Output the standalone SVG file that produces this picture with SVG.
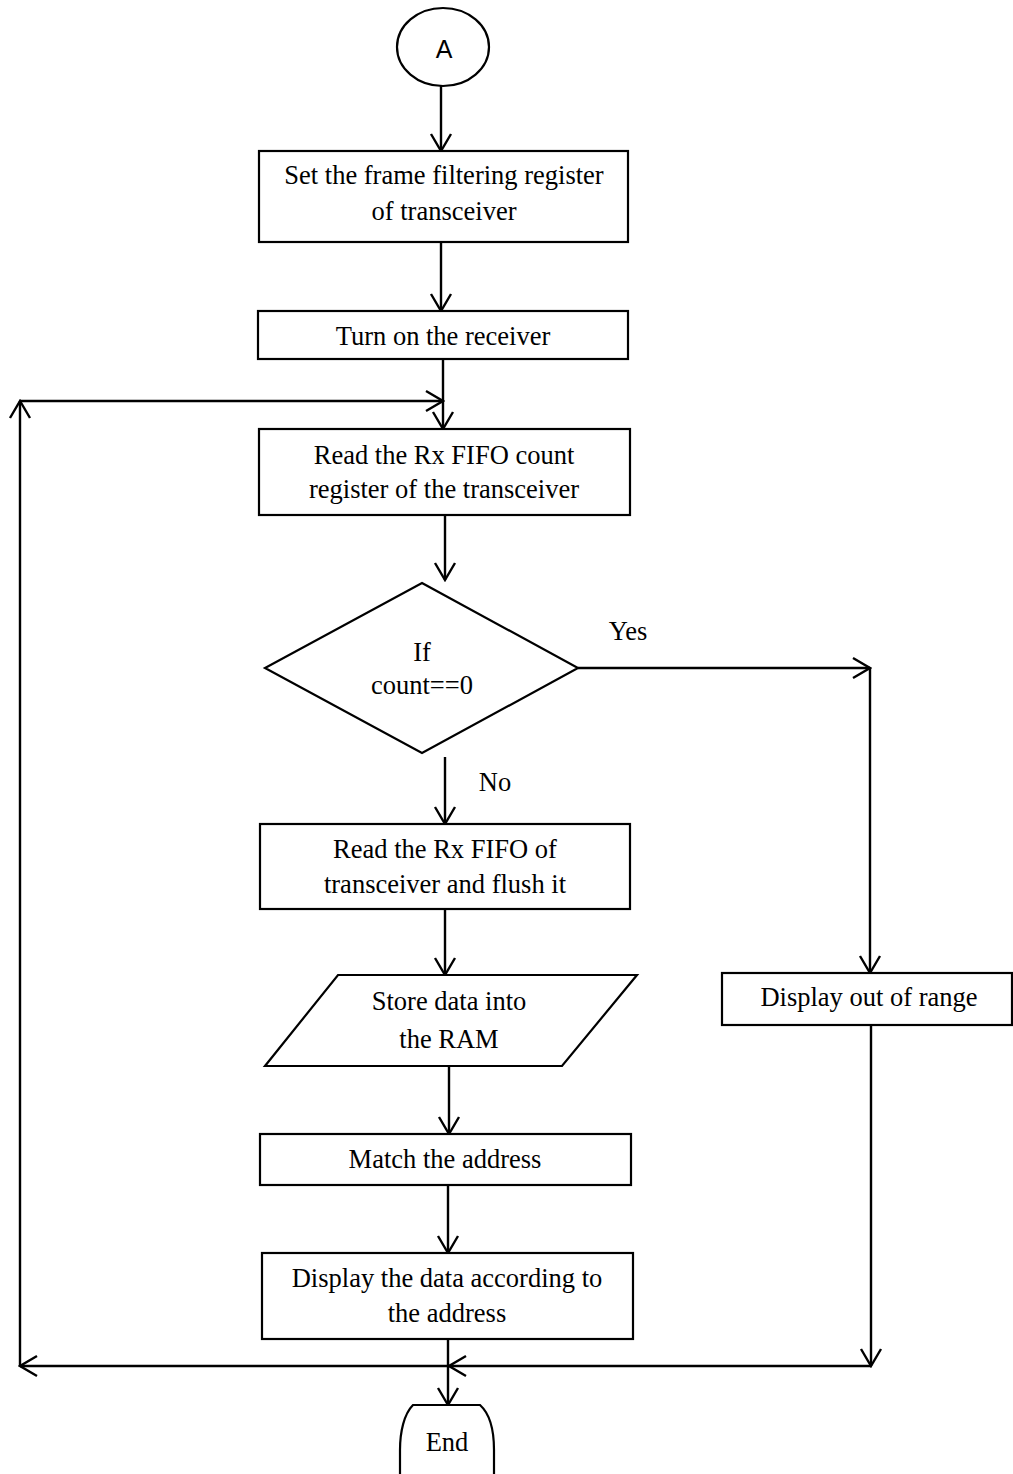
<svg xmlns="http://www.w3.org/2000/svg" width="1013" height="1474" viewBox="0 0 1013 1474">
<style>
.shape{fill:#fff;stroke:#000;stroke-width:2.2}
.t{font-family:"Liberation Serif","Times New Roman",serif;font-size:26.5px;fill:#000;text-anchor:middle}
.s{font-family:"Liberation Sans",Arial,sans-serif;font-size:25px;fill:#000;text-anchor:middle}
.c{fill:none;stroke:#000;stroke-width:2.4}
</style>
<defs>
<marker id="ah" markerUnits="userSpaceOnUse" markerWidth="20" markerHeight="24" viewBox="0 0 20 24" refX="18" refY="12" orient="auto">
<path d="M1,2 L18,12 L1,22" fill="none" stroke="#000" stroke-width="2.4"/>
</marker>
</defs>
<rect width="1013" height="1474" fill="#fff"/>
<g id="connectors">
<line class="c" x1="441" y1="86" x2="441" y2="151" marker-end="url(#ah)"/>
<line class="c" x1="441" y1="242" x2="441" y2="311" marker-end="url(#ah)"/>
<line class="c" x1="443" y1="359" x2="443" y2="429" marker-end="url(#ah)"/>
<line class="c" x1="20" y1="1366" x2="20" y2="401" marker-end="url(#ah)"/>
<line class="c" x1="20" y1="401" x2="443" y2="401" marker-end="url(#ah)"/>
<line class="c" x1="445" y1="515" x2="445" y2="580" marker-end="url(#ah)"/>
<line class="c" x1="578" y1="668" x2="870" y2="668" marker-end="url(#ah)"/>
<line class="c" x1="870" y1="668" x2="870" y2="973" marker-end="url(#ah)"/>
<line class="c" x1="445" y1="757" x2="445" y2="824" marker-end="url(#ah)"/>
<line class="c" x1="445" y1="909" x2="445" y2="975" marker-end="url(#ah)"/>
<line class="c" x1="449" y1="1066" x2="449" y2="1134" marker-end="url(#ah)"/>
<line class="c" x1="448" y1="1185" x2="448" y2="1253" marker-end="url(#ah)"/>
<line class="c" x1="448" y1="1339" x2="448" y2="1405" marker-end="url(#ah)"/>
<line class="c" x1="871" y1="1025" x2="871" y2="1366" marker-end="url(#ah)"/>
<line class="c" x1="871" y1="1366" x2="449" y2="1366" marker-end="url(#ah)"/>
<line class="c" x1="449" y1="1366" x2="20" y2="1366" marker-end="url(#ah)"/>
<text class="t" x="628" y="640">Yes</text>
<text class="t" x="495" y="791">No</text>
</g>
<g id="start">
<ellipse class="shape" cx="443" cy="47" rx="46" ry="39"/>
<text class="s" x="444" y="58">A</text>
</g>
<g id="set-filter">
<rect class="shape" x="259" y="151" width="369" height="91"/>
<text class="t" x="444" y="184">Set the frame filtering register</text>
<text class="t" x="444" y="220">of transceiver</text>
</g>
<g id="turn-on">
<rect class="shape" x="258" y="311" width="370" height="48"/>
<text class="t" x="443" y="345">Turn on the receiver</text>
</g>
<g id="read-count">
<rect class="shape" x="259" y="429" width="371" height="86"/>
<text class="t" x="444" y="464">Read the Rx FIFO count</text>
<text class="t" x="444" y="498">register of the transceiver</text>
</g>
<g id="decision">
<polygon class="shape" points="422,583 578,668 422,753 265,668"/>
<text class="t" x="422" y="661">If</text>
<text class="t" x="422" y="694">count==0</text>
</g>
<g id="read-fifo">
<rect class="shape" x="260" y="824" width="370" height="85"/>
<text class="t" x="445" y="858">Read the Rx FIFO of</text>
<text class="t" x="445" y="893">transceiver and flush it</text>
</g>
<g id="store">
<polygon class="shape" points="338,975 637,975 562,1066 265,1066"/>
<text class="t" x="449" y="1010">Store data into</text>
<text class="t" x="449" y="1048">the RAM</text>
</g>
<g id="match">
<rect class="shape" x="260" y="1134" width="371" height="51"/>
<text class="t" x="445" y="1168">Match the address</text>
</g>
<g id="display-data">
<rect class="shape" x="262" y="1253" width="371" height="86"/>
<text class="t" x="447" y="1287">Display the data according to</text>
<text class="t" x="447" y="1322">the address</text>
</g>
<g id="out-of-range">
<rect class="shape" x="722" y="973" width="290" height="52"/>
<text class="t" x="869" y="1006">Display out of range</text>
</g>
<g id="end">
<path class="shape" d="M413,1405 L480,1405 C490,1414 494,1432 494,1450 L494,1490 L400,1490 L400,1450 C400,1432 404,1414 413,1405 Z"/>
<text class="t" x="447" y="1451">End</text>
</g>
</svg>
